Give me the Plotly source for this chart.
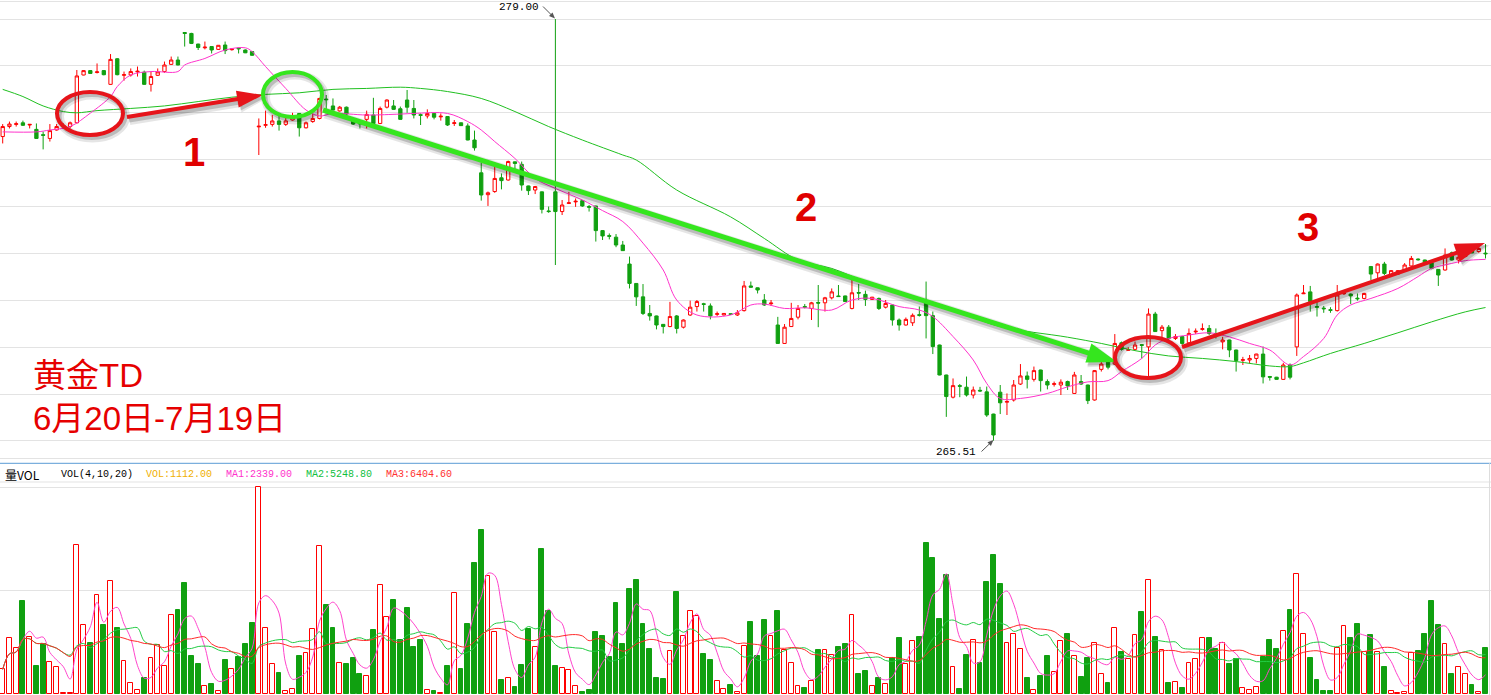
import math
import pandas as pd
import plotly.graph_objects as go

# ---------------- data ----------------
opens = [275.24,275.56,275.63,275.68,275.61,275.47,275.30,275.18,275.45,275.57,
         275.56,275.68,277.21,277.35,277.29,277.35,276.91,277.73,277.20,277.21,
         277.31,277.30,276.91,277.20,277.32,277.55,277.69,278.57,278.54,278.20,
         278.08,278.12,278.03,278.17,278.02,278.07,278.01,277.96,275.55,275.60,
         275.63,275.74,275.63,275.77,275.98,275.52,275.72,275.82,276.44,276.22,
         276.06,276.18,275.77,275.67,275.79,275.93,275.66,276.18,276.22,276.13,
         276.41,276.14,275.94,275.90,275.98,275.87,275.88,275.66,275.68,275.58,
         275.13,274.08,273.38,273.48,273.92,273.85,274.43,274.35,273.66,273.53,
         273.47,272.86,273.47,272.84,273.10,273.15,273.19,273.00,273.02,272.23,
         272.07,272.02,271.77,271.16,270.54,270.11,269.58,269.50,269.23,269.16,
         269.50,269.14,269.53,269.80,269.89,269.82,269.55,269.53,269.57,269.53,
         269.67,270.46,270.40,270.01,269.89,269.21,268.62,269.16,269.46,269.80,
         269.74,269.93,269.92,270.08,270.14,270.14,269.74,270.25,270.19,270.03,
         270.06,269.78,269.85,269.37,269.21,269.28,269.54,269.95,269.51,268.57,
         267.61,266.90,267.27,267.22,266.97,267.12,267.07,266.36,267.06,266.74,
         266.81,267.32,267.58,267.47,267.77,267.40,267.31,267.29,267.40,267.02,
         267.40,267.29,266.81,267.79,268.09,267.96,268.64,268.40,268.43,268.58,
         268.51,269.56,269.03,269.14,268.78,268.84,268.64,268.99,269.07,269.10,
         268.93,268.67,268.73,268.41,268.08,268.09,268.14,268.28,267.56,267.54,
         267.47,267.93,268.51,270.21,270.27,269.80,269.75,269.70,269.67,270.21,
         270.20,270.07,270.06,271.08,270.88,271.16,270.81,270.84,270.97,271.10,
         271.32,271.29,271.20,270.99,270.97,271.52,271.29,271.40,271.59,271.56,
         271.51]
highs = [275.64,275.72,275.72,275.75,275.64,275.66,275.40,275.64,275.64,275.66,
         275.72,277.37,277.37,277.37,277.58,277.37,277.88,277.75,277.32,277.42,
         277.48,277.35,277.32,277.42,277.64,277.80,277.80,278.58,278.56,278.21,
         278.28,278.13,278.17,278.28,278.06,278.08,278.03,277.97,275.82,276.07,
         275.93,275.93,275.88,276.00,275.99,275.72,275.98,276.48,276.57,276.46,
         276.22,276.20,275.82,275.68,276.07,276.48,276.20,276.43,276.41,276.20,
         276.73,276.41,275.98,276.11,275.99,275.98,275.89,275.77,275.69,275.66,
         275.43,274.40,273.48,274.28,274.06,274.47,274.44,274.44,273.67,273.66,
         273.48,273.00,279.00,273.21,273.47,273.26,273.21,273.05,273.03,272.25,
         272.14,272.12,271.90,271.40,270.55,270.52,269.85,269.51,269.24,269.95,
         269.53,269.39,269.99,270.01,269.92,269.90,269.64,269.59,269.58,269.69,
         270.62,270.60,270.41,270.20,270.01,269.47,269.24,269.92,269.85,269.88,
         269.95,270.49,270.11,270.38,270.49,270.15,270.70,270.52,270.31,270.11,
         270.09,270.01,269.86,269.42,269.45,269.58,269.80,270.60,269.64,268.58,
         267.62,267.50,267.32,267.56,267.24,267.23,267.24,266.37,267.29,267.02,
         267.45,267.96,267.72,267.88,267.78,267.47,267.40,267.47,267.43,267.71,
         267.61,267.30,267.77,268.30,268.19,268.92,268.68,268.50,268.68,268.60,
         269.74,269.63,269.21,269.21,268.92,268.86,269.10,269.10,269.26,269.21,
         269.10,268.83,268.74,268.42,268.19,268.25,268.29,268.52,267.58,267.55,
         268.00,267.98,270.22,270.49,270.46,269.96,269.82,269.78,270.49,270.33,
         270.22,270.22,270.24,271.10,271.18,271.23,270.97,270.97,271.19,271.42,
         271.34,271.30,271.23,271.00,271.66,271.56,271.61,271.74,271.61,271.77,
         271.80]
lows = [275.02,275.50,275.56,275.58,275.50,275.17,274.83,275.08,275.43,275.50,
        275.50,275.66,277.20,277.25,277.26,277.20,276.90,277.20,277.03,277.16,
        277.16,276.90,276.68,277.18,277.28,277.53,277.52,278.12,278.20,278.01,
        278.03,277.90,278.01,277.88,277.99,277.90,277.91,277.83,274.65,275.52,
        275.56,275.43,275.58,275.75,275.24,275.50,275.68,275.79,276.09,276.08,
        276.04,275.93,275.61,275.50,275.50,275.61,275.64,276.14,276.09,275.78,
        276.00,275.82,275.61,275.82,275.79,275.75,275.58,275.58,275.58,275.12,
        274.79,273.19,273.02,273.44,273.55,273.83,274.17,273.51,273.37,273.40,
        272.78,272.80,271.13,272.73,273.08,272.99,272.99,272.84,271.88,271.93,
        271.95,271.70,271.58,270.38,269.82,269.53,269.35,269.07,268.94,269.14,
        268.94,269.10,269.50,269.64,269.64,269.39,269.50,269.52,269.53,269.50,
        269.64,270.41,270.22,269.82,269.82,268.61,268.61,269.15,269.39,269.74,
        269.37,269.14,269.64,270.03,270.11,269.95,269.71,270.01,269.82,270.01,
        269.69,269.74,269.19,269.03,269.19,269.18,269.48,268.78,268.28,267.60,
        266.27,266.86,266.90,266.92,266.86,267.07,266.27,265.51,266.36,266.33,
        266.76,267.29,267.18,267.40,267.08,267.15,267.24,266.97,267.13,267.01,
        267.29,266.68,266.79,267.72,267.79,267.93,268.39,268.39,268.39,268.14,
        267.55,268.99,268.75,268.71,268.73,268.57,268.62,268.92,269.03,268.89,
        268.78,268.43,268.18,267.72,267.93,267.98,267.98,267.34,267.43,267.46,
        267.46,267.47,268.22,270.20,269.64,269.48,269.60,269.60,269.64,270.17,
        269.88,269.99,270.03,270.65,270.65,270.81,270.79,270.82,270.94,271.07,
        271.27,271.16,270.99,270.46,270.95,271.27,271.18,271.38,271.50,271.52,
        271.34]
closes = [275.56,275.64,275.65,275.60,275.63,275.18,275.28,275.43,275.56,275.59,
          275.68,277.18,277.35,277.26,277.31,277.22,277.71,277.22,277.22,277.32,
          277.33,276.91,277.16,277.31,277.53,277.69,277.53,278.54,278.22,278.09,
          278.10,278.01,278.16,277.99,278.04,278.05,277.92,277.84,275.57,275.62,
          275.74,275.63,275.74,275.90,275.52,275.68,275.82,276.46,276.42,276.09,
          276.18,275.96,275.64,275.65,275.95,275.66,276.14,276.41,276.11,275.79,
          276.18,275.93,275.92,275.98,275.86,275.89,275.61,275.68,275.59,275.13,
          274.88,273.37,273.44,273.90,273.83,274.44,274.38,273.69,273.51,273.64,
          272.91,272.84,272.84,273.05,273.12,273.17,273.02,272.98,272.23,272.06,
          272.05,271.77,271.59,270.54,270.11,269.58,269.50,269.21,269.16,269.48,
          269.10,269.37,269.78,269.96,269.87,269.50,269.57,269.58,269.55,269.60,
          270.46,270.42,270.33,269.85,269.91,268.62,269.14,269.42,269.74,269.78,
          269.92,269.91,270.08,270.27,270.12,269.96,270.24,270.23,270.03,270.10,
          269.74,269.90,269.37,269.21,269.39,269.52,269.52,269.51,268.52,267.61,
          266.92,267.27,267.25,266.97,267.13,267.10,266.33,265.69,266.72,266.76,
          267.29,267.58,267.47,267.75,267.43,267.29,267.33,267.38,267.26,267.61,
          267.32,266.79,267.75,267.96,267.86,268.62,268.43,268.42,268.57,268.56,
          269.56,269.00,269.14,268.78,268.84,268.62,268.94,269.01,269.09,268.94,
          268.91,268.73,268.41,268.07,268.10,268.14,268.28,267.55,267.54,267.47,
          267.93,267.54,270.17,270.23,269.96,269.78,269.73,269.68,270.17,270.23,
          270.14,270.05,270.22,270.84,271.16,270.86,270.95,270.95,271.13,271.34,
          271.30,271.18,271.02,270.81,271.45,271.29,271.38,271.56,271.52,271.66,
          271.49]
volumes = [597,1347,1105,2251,1371,678,1210,766,645,16,
           16,3598,1662,1226,2388,1670,2727,1597,791,258,
           97,387,863,1194,678,1904,2033,2686,920,726,
           194,242,73,823,597,895,1210,1718,5001,1589,
           726,516,73,113,920,984,1565,3574,2154,1597,
           742,726,871,476,428,1549,2630,1863,2275,1299,
           2081,1137,1307,97,81,32,678,2436,605,1694,
           3170,3969,2856,1492,339,379,169,702,1565,1129,
           3509,2009,678,621,573,186,56,97,1500,1412,
           895,2202,1210,2541,2759,1694,1089,387,363,1033,
           2469,1396,2001,1888,968,823,315,113,218,48,
           1162,1742,920,1791,1404,2009,1065,750,186,145,
           315,1065,1065,936,1137,1210,1904,484,557,186,
           387,234,871,1355,726,1275,1379,3654,3291,1815,
           2880,645,121,944,1299,750,2710,3364,2662,1226,
           1444,1081,387,89,436,920,524,1275,1452,912,
           411,871,1226,484,266,1589,1016,847,1420,1984,
           2751,1379,1057,266,282,145,742,839,1347,1355,
           1089,1226,726,847,137,89,161,895,1307,1089,
           1517,2033,2896,1444,871,339,73,73,1105,1638,
           1355,1694,1008,1420,1008,653,73,16,40,992,
           1041,1452,2251,1670,1210,484,645,484,218,40,
           1112]

# price moving averages (bar index, price)
ma_fast_idx = [0,5,7,10,13,16,17,19,22,26,27,30,33,36,37,39,42,45,47,49,
               54,59,61,66,69,71,73,76,79,82,86,89,92,95,98,100,103,108,111,113,
               116,119,123,126,129,133,136,138,141,144,146,148,151,155,158,161,164,166,169,171,
               173,176,179,182,185,188,191,193,196,198,200,203,207,210,212,215,217,220]
ma_fast = [275.39,275.39,275.45,275.56,275.99,276.52,276.84,277.21,277.32,277.32,
           277.53,277.74,278.01,278.08,277.96,277.48,276.78,276.09,275.90,275.98,
           275.93,275.96,275.98,275.98,275.72,275.45,275.08,274.54,273.90,273.58,
           273.21,272.87,272.52,271.83,270.97,270.01,269.53,269.53,269.85,269.88,
           269.74,269.76,269.69,270.01,270.06,269.80,269.69,269.48,268.84,268.09,
           267.34,266.86,266.86,267.02,267.23,267.39,267.43,267.72,268.14,268.57,
           268.78,268.89,268.96,268.83,268.62,268.41,267.93,268.20,268.78,269.53,
           269.85,270.06,270.38,270.76,271.02,271.18,271.27,271.31]
ma_slow_idx = [0,3,6,9,11,14,19,24,29,34,39,44,49,54,59,62,66,71,76,81,
               86,92,94,100,108,113,118,123,128,133,138,143,148,158,163,168,173,178,183,188,
               191,193,197,202,207,212,217,220]
ma_slow = [276.75,276.52,276.22,276.04,276.00,276.07,276.14,276.22,276.36,276.50,
           276.59,276.64,276.75,276.78,276.82,276.78,276.68,276.46,276.04,275.56,
           275.13,274.65,274.49,273.53,272.67,271.98,271.29,271.02,270.60,270.27,
           269.90,269.53,269.16,268.82,268.62,268.39,268.22,268.14,268.04,267.90,
           267.88,268.00,268.30,268.62,268.96,269.31,269.63,269.77]

price_grid = [264.93, 265.5, 267.0, 268.5, 270.0, 271.5, 273.0, 274.5, 276.0, 277.5, 279.0, 279.57]
vol_grid = [2500, 5000]
vol_periods = [4, 10, 20]
header_texts = ["VOL(4,10,20)", "VOL:1112.00", "MA1:2339.00", "MA2:5248.80", "MA3:6404.60"]
title_lines = ["黄金TD", "6月20日-7月19日"]
high_label, low_label = "279.00", "265.51"

# ---------------- styling / layout helpers ----------------
W, H = 1491, 695
RED = "#ff0000"
GREEN = "#10a010"
ARED = "#e6141a"
AGREEN = "#35e61e"

def px(x):
    return x / W

def py(y):
    return 1 - y / H

idx = list(range(len(closes)))

fig = go.Figure()

fig.add_trace(go.Candlestick(
    x=idx, open=opens, high=highs, low=lows, close=closes,
    increasing=dict(line=dict(color=RED, width=1), fillcolor="#ffffff"),
    decreasing=dict(line=dict(color=GREEN, width=1), fillcolor=GREEN),
    whiskerwidth=0, xaxis="x", yaxis="y", hoverinfo="skip"))

fig.add_trace(go.Scatter(x=ma_slow_idx, y=ma_slow, mode="lines",
                         line=dict(color="#20c020", width=1, shape="spline"),
                         xaxis="x", yaxis="y", hoverinfo="skip"))
fig.add_trace(go.Scatter(x=ma_fast_idx, y=ma_fast, mode="lines",
                         line=dict(color="#ff33cc", width=1, shape="spline"),
                         xaxis="x", yaxis="y", hoverinfo="skip"))

# volume bars
up = [c >= o for o, c in zip(opens, closes)]
fig.add_trace(go.Bar(
    x=idx, y=volumes, width=0.72,
    marker=dict(color=["#ffffff" if u else GREEN for u in up],
                line=dict(color=[RED if u else GREEN for u in up], width=1)),
    xaxis="x2", yaxis="y2", hoverinfo="skip"))

vs = pd.Series(volumes, dtype=float)
for p, col in zip(vol_periods, ["#ff44cc", "#22cc44", "#ff2a2a"]):
    fig.add_trace(go.Scatter(x=idx, y=vs.rolling(p, min_periods=1).mean(), mode="lines",
                             line=dict(color=col, width=1, shape="spline"),
                             xaxis="x2", yaxis="y2", hoverinfo="skip"))

xr = [-2.7 / 6.74, (W - 2.7) / 6.74]
common_x = dict(range=xr, showticklabels=False, showgrid=False, zeroline=False,
                ticks="", showline=False)
fig.update_layout(
    width=W, height=H, margin=dict(l=0, r=0, t=0, b=0),
    paper_bgcolor="white", plot_bgcolor="white", showlegend=False, hovermode=False,
    bargap=0,
    xaxis=dict(domain=[0, 1], anchor="y", rangeslider=dict(visible=False), **common_x),
    xaxis2=dict(domain=[0, 1], anchor="y2", **common_x),
    yaxis=dict(domain=[py(460), 1], range=[279.61 - 0.032 * 460, 279.61],
               tickvals=price_grid, showticklabels=False, showgrid=True,
               gridcolor="#e3e3e3", gridwidth=1, zeroline=False, ticks=""),
    yaxis2=dict(domain=[0, py(463)], range=[-24.2, (694 - 463) * 24.2],
                tickvals=vol_grid, showticklabels=False, showgrid=True,
                gridcolor="#e3e3e3", gridwidth=1, zeroline=False, ticks=""),
)

shapes = []
# panel separators
shapes.append(dict(type="line", xref="paper", yref="paper", x0=0, x1=1, y0=py(463.3), y1=py(463.3),
                   line=dict(color="#5b9bd5", width=1)))
shapes.append(dict(type="line", xref="paper", yref="paper", x0=0, x1=1, y0=py(482), y1=py(482),
                   line=dict(color="#e3e3e3", width=1)))
shapes.append(dict(type="line", xref="paper", yref="paper", x0=px(1489.5), x1=px(1489.5), y0=0, y1=py(463.3),
                   line=dict(color="#dddddd", width=1)))


def arrow(x0, y0, x1, y1, color, w, hl, hw, shadow=True):
    out = []
    dx, dy = x1 - x0, y1 - y0
    L = math.hypot(dx, dy)
    ux, uy = dx / L, dy / L
    nx, ny = -uy, ux

    def parts(ox, oy, col, ww, extra):
        bx, by = x1 - ux * hl + ox, y1 - uy * hl + oy
        tx, ty = x1 + ox + ux * extra, y1 + oy + uy * extra
        p1 = (bx + nx * (hw / 2 + extra), by + ny * (hw / 2 + extra))
        p2 = (bx - nx * (hw / 2 + extra), by - ny * (hw / 2 + extra))
        res = [dict(type="line", xref="paper", yref="paper",
                    x0=px(x0 + ox), y0=py(y0 + oy), x1=px(bx + ux * 2), y1=py(by + uy * 2),
                    line=dict(color=col, width=ww)),
               dict(type="path", xref="paper", yref="paper",
                    path=f"M {px(tx)} {py(ty)} L {px(p1[0])} {py(p1[1])} L {px(p2[0])} {py(p2[1])} Z",
                    fillcolor=col, line=dict(color=col, width=0))]
        return res
    if shadow:
        out += parts(2.5, 3, "rgba(0,0,0,0.10)", w + 6, 2)
        out += parts(2, 2.5, "rgba(0,0,0,0.18)", w + 2, 0.5)
    out += parts(0, 0, color, w, 0)
    return out


def ellipse(cx, cy, rx, ry, color, w=4):
    out = []
    for ox, oy, col, ww in [(2.5, 3, "rgba(0,0,0,0.10)", w + 5), (2, 2.5, "rgba(0,0,0,0.18)", w + 1),
                            (0, 0, color, w)]:
        out.append(dict(type="circle", xref="paper", yref="paper",
                        x0=px(cx - rx + ox), x1=px(cx + rx + ox),
                        y0=py(cy + ry + oy), y1=py(cy - ry + oy),
                        line=dict(color=col, width=ww), fillcolor="rgba(0,0,0,0)"))
    return out

shapes += ellipse(90, 113.5, 33, 21.5, ARED)
shapes += arrow(127, 117, 263, 95, ARED, 4, 26, 17)
shapes += ellipse(292.5, 94.5, 29.5, 22.5, AGREEN)
shapes += arrow(323, 110, 1117, 362, AGREEN, 5, 30, 20)
shapes += ellipse(1148, 357.5, 33, 20.5, ARED)
shapes += arrow(1182, 347, 1485, 243, ARED, 4, 30, 19)
# small label arrows
shapes += arrow(543, 6.5, 555, 18.5, "#555555", 1, 6, 5, shadow=False)
shapes += arrow(981.5, 451.5, 993.5, 440, "#555555", 1, 6, 5, shadow=False)
fig.update_layout(shapes=shapes)

ann = []
def text(x, y, s, size, color, family, xanchor="center", bold=False, align="left"):
    ann.append(dict(xref="paper", yref="paper", x=px(x), y=py(y), text=(f"<b>{s}</b>" if bold else s),
                    showarrow=False, xanchor=xanchor, yanchor="middle", align=align,
                    font=dict(size=size, color=color, family=family)))

text(194, 152, "1", 40, "#e00000", "Liberation Sans", bold=True)
text(806, 207, "2", 40, "#e00000", "Liberation Sans", bold=True)
text(1308, 227, "3", 40, "#e00000", "Liberation Sans", bold=True)
cjk = "Liberation Sans, Noto Sans CJK SC"
text(31, 375, title_lines[0], 33, "#e60000", cjk, xanchor="left")
text(31, 418, title_lines[1], 33, "#e60000", cjk, xanchor="left")
text(541, 7, high_label, 11, "#000000", "Liberation Mono", xanchor="right")
text(978, 452, low_label, 11, "#000000", "Liberation Mono", xanchor="right")
text(3, 474.5, "量VOL", 12, "#000000", "Noto Sans CJK SC", xanchor="left")
hdr_x = [59, 144, 224, 304, 384]
hdr_c = ["#000000", "#f0b000", "#ff33cc", "#10c040", "#ff3030"]
for s, x, c in zip(header_texts, hdr_x, hdr_c):
    text(x, 474.5, s, 10, c, "Liberation Mono", xanchor="left")
fig.update_layout(annotations=ann)

fig.write_html("out.html", config={"displayModeBar": False},
               post_script="document.body.style.margin='0';document.body.style.overflow='hidden';")
